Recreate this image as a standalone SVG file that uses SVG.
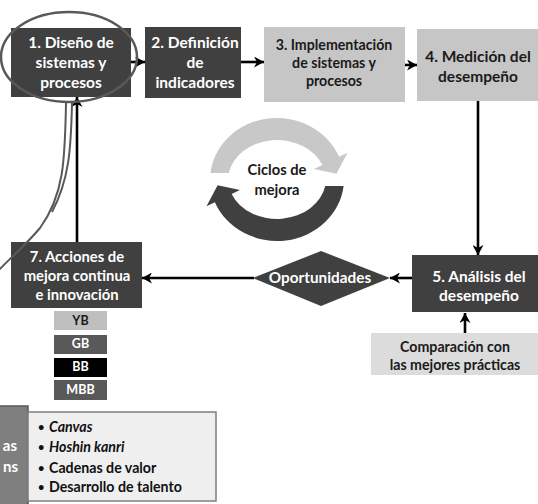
<svg xmlns="http://www.w3.org/2000/svg" width="538" height="504" viewBox="0 0 538 504">
  <style>
    .t { font-family: "Lato", "Open Sans", sans-serif; font-weight: bold; text-anchor: middle; }
    .w { fill: #ffffff; }
    .k { fill: #1a1a1a; }
    .dark { fill: #404040; }
    .light { fill: #c6c6c6; }
    .pale { fill: #dcdcdc; }
    .conn { stroke: #000000; stroke-width: 2.6; fill: none; marker-end: url(#ah); }
    .b { font-family: "Lato", "Open Sans", sans-serif; font-weight: bold; font-size: 14.2px; fill: #111111; }
    .dot { font-family: "Lato", "Open Sans", sans-serif; font-weight: bold; font-size: 11px; fill: #111111; }
  </style>
  <defs>
    <marker id="ah" markerUnits="userSpaceOnUse" markerWidth="11" markerHeight="11" refX="10" refY="5.5" orient="auto">
      <path d="M0,0 L10,5.5 L0,11 L3,5.5 z" fill="#000000"/>
    </marker>
    <!-- one half of the cycle: band plus arrowhead -->
    <path id="cycle-arc" d="M210.4,173 A67,62 0 0 1 339.1,156.8 L347.5,152.7 L336.4,173.7 L314,169.1 L322.4,165 A49,40 0 0 0 228.8,173 Z"/>
  </defs>

  <rect width="538" height="504" fill="#ffffff"/>

  <!-- cycle graphic -->
  <g id="cycle">
    <use href="#cycle-arc" fill="#c8c8c8"/>
    <use href="#cycle-arc" fill="#404040" transform="rotate(180 277 179.5)"/>
    <text class="t k" x="277" y="175" font-size="14.7">Ciclos de</text>
    <text class="t k" x="277" y="195" font-size="14.7">mejora</text>
  </g>

  <!-- connectors -->
  <g id="connectors">
    <line class="conn" x1="131" y1="62" x2="145" y2="62"/>
    <line class="conn" x1="241" y1="62" x2="264" y2="62"/>
    <line class="conn" x1="405" y1="65" x2="417" y2="65"/>
    <line class="conn" x1="478" y1="101" x2="478" y2="255"/>
    <line class="conn" x1="412" y1="278" x2="390" y2="278"/>
    <line class="conn" x1="254" y1="278" x2="142" y2="278"/>
    <line class="conn" x1="77" y1="242" x2="77" y2="97"/>
    <line class="conn" x1="465" y1="333" x2="465" y2="313"/>
  </g>

  <g id="n1">
    <rect class="dark" x="11" y="28" width="120" height="69"/>
    <text class="t w" x="71" y="48" font-size="15.5">1. Diseño de</text>
    <text class="t w" x="71" y="68" font-size="15.5">sistemas y</text>
    <text class="t w" x="71" y="88" font-size="15.5">procesos</text>
  </g>

  <g id="n2">
    <rect class="dark" x="145" y="27" width="96" height="71"/>
    <text class="t w" x="195" y="48" font-size="15.5">2. Definición</text>
    <text class="t w" x="195" y="68" font-size="15.5">de</text>
    <text class="t w" x="195" y="88" font-size="15.5">indicadores</text>
  </g>

  <g id="n3">
    <rect class="light" x="264" y="27" width="141" height="75"/>
    <text class="t k" x="334" y="50" font-size="14.2">3. Implementación</text>
    <text class="t k" x="334" y="68" font-size="14.2">de sistemas y</text>
    <text class="t k" x="334" y="86" font-size="14.2">procesos</text>
  </g>

  <g id="n4">
    <rect class="light" x="417" y="29" width="125" height="72"/>
    <text class="t k" x="478" y="62" font-size="15.5">4. Medición del</text>
    <text class="t k" x="478" y="82" font-size="15.5">desempeño</text>
  </g>

  <g id="n5">
    <rect class="dark" x="412" y="255" width="130" height="57"/>
    <text class="t w" x="479" y="282" font-size="15.5">5. Análisis del</text>
    <text class="t w" x="479" y="301" font-size="15.5">desempeño</text>
  </g>

  <g id="n-comparacion">
    <rect class="pale" x="371" y="333" width="171" height="42"/>
    <text class="t k" x="455" y="352" font-size="14.2">Comparación con</text>
    <text class="t k" x="455" y="370" font-size="14.2">las mejores prácticas</text>
  </g>

  <g id="n-oportunidades">
    <polygon class="dark" points="253,278 321,251 390,278 321,306"/>
    <text class="t w" x="320" y="283" font-size="15.3">Oportunidades</text>
  </g>

  <g id="n7">
    <rect class="dark" x="11" y="242" width="131" height="66"/>
    <text class="t w" x="77" y="262" font-size="14.8">7. Acciones de</text>
    <text class="t w" x="77" y="281" font-size="14.8">mejora continua</text>
    <text class="t w" x="77" y="300" font-size="14.8">e innovación</text>
  </g>

  <g id="belts">
    <rect x="54" y="311" width="53" height="19" fill="#bfbfbf"/>
    <text class="t k" x="80.5" y="325" font-size="12.5">YB</text>
    <rect x="54" y="335" width="53" height="19" fill="#595959"/>
    <text class="t w" x="80.5" y="348" font-size="12.5">GB</text>
    <rect x="54" y="358" width="53" height="19" fill="#000000"/>
    <text class="t w" x="80.5" y="371" font-size="12.5">BB</text>
    <rect x="54" y="380" width="53" height="20" fill="#595959"/>
    <text class="t w" x="80.5" y="394" font-size="12.5">MBB</text>
  </g>

  <!-- highlight ring on step 1 with its pointer -->
  <g id="highlight">
    <ellipse cx="69" cy="57" rx="68" ry="45" fill="none" stroke="#595959" stroke-width="2.5"/>
    <path d="M66,103 C65,160 64,195 40,228 C25,246 10,258 -3,272 M72,103 C71,150 69,180 52,212" fill="none" stroke="#595959" stroke-width="2"/>
  </g>

  <g id="n-herramientas">
    <rect x="-2" y="406" width="30" height="100" fill="#7f7f7f" stroke="#595959" stroke-width="1.5"/>
    <text class="t w" x="17" y="451" font-size="15" style="text-anchor:end">as</text>
    <text class="t w" x="18" y="472" font-size="15" style="text-anchor:end">ns</text>
  </g>

  <g id="n-lista">
    <rect x="28" y="412" width="188" height="89" fill="#efefef" stroke="#7f7f7f" stroke-width="1.5"/>
    <text class="dot" x="38" y="431">•</text>
    <text class="b" x="49" y="432" font-style="italic">Canvas</text>
    <text class="dot" x="38" y="451">•</text>
    <text class="b" x="49" y="452" font-style="italic">Hoshin kanri</text>
    <text class="dot" x="38" y="472">•</text>
    <text class="b" x="49" y="473">Cadenas de valor</text>
    <text class="dot" x="38" y="491">•</text>
    <text class="b" x="49" y="492">Desarrollo de talento</text>
  </g>
</svg>
